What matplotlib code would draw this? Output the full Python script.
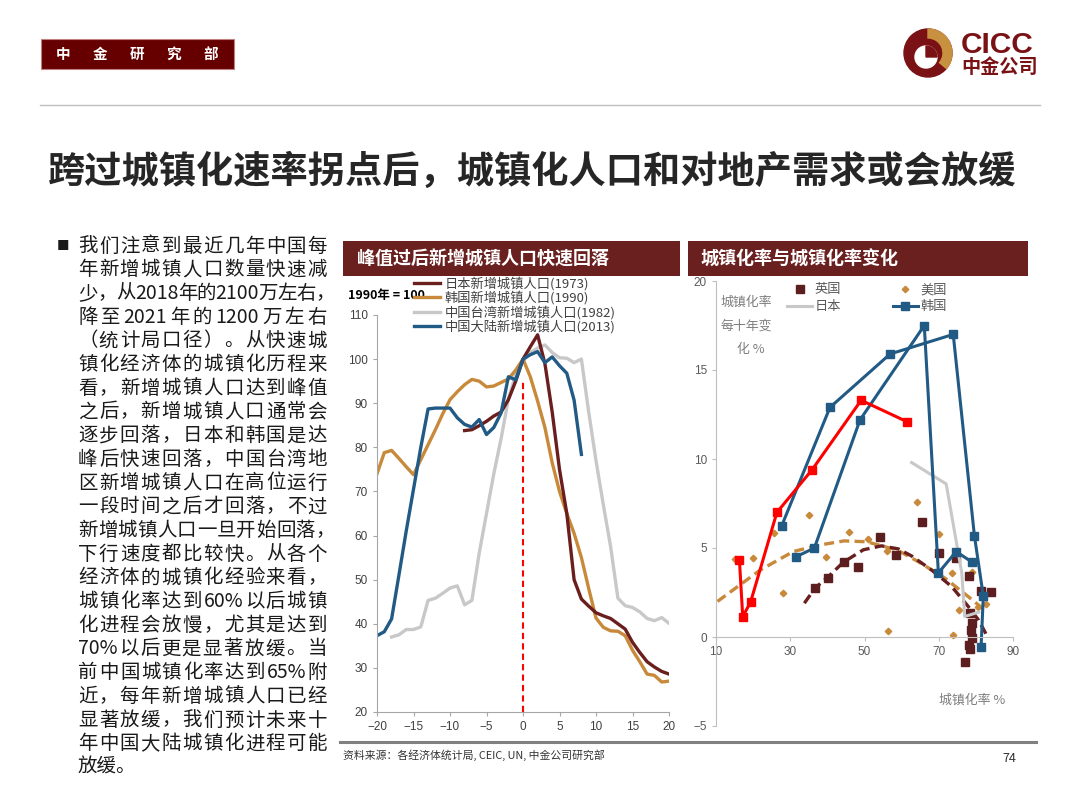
import numpy as np
import matplotlib
matplotlib.use("Agg")
import matplotlib.pyplot as plt
from matplotlib.patches import Rectangle, Circle, Wedge

plt.rcParams['font.family'] = ['Noto Sans CJK SC', 'DejaVu Sans']

# ---- left chart: new urban population, years from peak (peak year = 100)
yrs_japan = np.arange(-8, 21)
japan = [83.8, 84.0, 84.9, 85.9, 87.1, 88.0, 90.8, 95.0, 100.0, 102.8, 105.5,
         99.0, 88.0, 75.0, 65.0, 50.0, 45.6, 44.0, 42.5, 41.8, 41.2, 40.0,
         38.8, 35.8, 33.5, 31.4, 30.2, 29.2, 28.6]
yrs_korea = np.arange(-20, 21)
korea = [74.0, 78.8, 79.3, 77.5, 75.6, 73.8, 77.2, 80.6, 84.0, 87.6, 90.8,
         92.6, 94.2, 95.4, 95.0, 93.7, 93.9, 94.7, 95.5, 97.5, 100.0, 96.0,
         90.5, 84.5, 76.5, 70.0, 65.0, 60.5, 55.0, 48.0, 41.3, 39.2, 38.4,
         38.3, 37.3, 34.0, 31.4, 28.6, 28.3, 26.8, 27.0]
yrs_taiwan = np.arange(-18, 21)
taiwan = [37.0, 37.5, 38.7, 38.7, 39.3, 45.3, 45.8, 46.9, 48.1, 48.6, 44.3,
          45.3, 56.0, 65.0, 74.0, 82.0, 91.0, 96.5, 99.5, 101.5, 102.5, 103.2,
          101.5, 100.3, 100.2, 99.2, 100.0, 88.0, 77.0, 67.0, 57.5, 45.8,
          44.1, 43.7, 42.7, 41.2, 40.7, 41.4, 40.1]
yrs_china = np.arange(-20, 9)
china = [37.3, 38.2, 41.1, 51.0, 61.0, 70.5, 80.0, 88.7, 88.9, 88.9, 88.9,
         86.7, 85.2, 84.6, 86.3, 82.9, 84.5, 87.8, 96.0, 95.3, 100.0, 101.0,
         101.7, 99.2, 100.5, 98.5, 96.8, 90.7, 78.4]
left_labels = ['日本新增城镇人口(1973)', '韩国新增城镇人口(1990)',
               '中国台湾新增城镇人口(1982)', '中国大陆新增城镇人口(2013)']

# ---- right chart: urbanisation rate (x) vs change per decade (y)
uk_x = [36.7, 40.1, 44.6, 48.3, 54.2, 58.6, 65.4, 70.2, 74.7, 77.1, 78.1,
        78.2, 78.4, 78.4, 78.7, 79.0, 79.0, 81.4, 84.1]
uk_y = [2.73, 3.33, 4.2, 3.95, 5.6, 4.6, 6.44, 4.7, 4.42, -1.42, -0.45,
        3.43, 1.33, -0.69, 0.39, 0.77, -0.07, 2.6, 2.55]
us_x = [15.2, 19.9, 25.5, 28.0, 35.0, 39.5, 45.7, 51.0, 56.1, 56.4, 64.1,
        70.1, 73.5, 73.8, 75.5, 79.0, 80.7, 82.6]
us_y = [4.4, 4.46, 5.85, 2.45, 6.85, 4.51, 5.9, 5.52, 4.85, 0.32, 7.6,
        5.8, 3.58, 0.11, 1.52, 3.67, 1.7, 1.85]
jp_x = [62.7, 72.0, 76.2, 77.0, 80.8]
jp_y = [9.8, 8.6, 3.6, 1.15, 1.4]
kr1_x = [27.7, 40.7, 56.9, 73.9, 79.6, 82.0, 81.4]
kr1_y = [6.25, 12.9, 15.9, 17.0, 5.7, 2.3, -0.58]
kr2_x = [31.5, 36.5, 48.8, 66.1, 69.9, 74.7, 79.0]
kr2_y = [4.5, 5.0, 12.2, 17.5, 3.6, 4.8, 4.2]
cn_x = [16.3, 17.2, 19.3, 26.4, 35.9, 49.1, 61.4]
cn_y = [4.35, 1.15, 1.95, 7.0, 9.4, 13.3, 12.1]
us_trend_x = [10.4, 21.9, 30.8, 38.0, 44.5, 50.6, 55.5, 58.7, 64.5, 71.7, 78.0, 82.9]
us_trend_y = [2.0, 3.76, 4.8, 5.17, 5.4, 5.35, 5.07, 4.9, 4.23, 3.3, 2.26, 1.42]
uk_trend_x = [33.8, 36.7, 40.3, 44.3, 49.7, 54.6, 59.1, 62.7, 68.1, 73.5, 78.0, 80.7, 83.3]
uk_trend_y = [1.9, 2.75, 3.4, 4.2, 4.9, 5.12, 4.95, 4.55, 3.76, 2.83, 1.7, 0.96, -0.05]

body = ['我们注意到最近几年中国每', '年新增城镇人口数量快速减', '少，从2018年的2100万左右，',
        '降至2021年的1200万左右', '（统计局口径）。从快速城', '镇化经济体的城镇化历程来',
        '看，新增城镇人口达到峰值', '之后，新增城镇人口通常会', '逐步回落，日本和韩国是达',
        '峰后快速回落，中国台湾地', '区新增城镇人口在高位运行', '一段时间之后才回落，不过',
        '新增城镇人口一旦开始回落，', '下行速度都比较快。从各个', '经济体的城镇化经验来看，',
        '城镇化率达到60%以后城镇', '化进程会放慢，尤其是达到', '70%以后更是显著放缓。当',
        '前中国城镇化率达到65%附', '近，每年新增城镇人口已经', '显著放缓，我们预计未来十',
        '年中国大陆城镇化进程可能', '放缓。']

DARK = '#6B2020'
BROWN = '#6A1E1E'
GOLD = '#C8893A'
GREY = '#C8C8C8'
BLUE = '#215A85'

fig = plt.figure(figsize=(10.8, 8.1), dpi=100)

# page decoration, drawn in pixel coordinates
bg = fig.add_axes([0, 0, 1, 1])
bg.set_xlim(0, 1080)
bg.set_ylim(810, 0)
bg.axis('off')
renderer = fig.canvas.get_renderer()


def text_width(s, size):
    t = bg.text(0, 0, s, fontsize=size)
    w = t.get_window_extent(renderer).width
    t.remove()
    return w


def tokens(line):
    # keep runs of latin characters/digits together
    out = []
    for ch in line:
        if ord(ch) < 128 and out and ord(out[-1][-1]) < 128:
            out[-1] += ch
        else:
            out.append(ch)
    return out


def justified(y, line, x0, width, size, color):
    toks = tokens(line)
    ref = text_width('中', size)
    adv = [text_width(t + '中', size) - ref for t in toks]
    if line.endswith('，') and sum(adv) > width - 8:
        width += 8   # trailing comma hangs past the margin
    gap = (width - sum(adv)) / max(len(toks) - 1, 1)
    x = x0
    for t, a in zip(toks, adv):
        bg.text(x, y, t, fontsize=size, color=color, ha='left', va='center')
        x += a + gap


bg.add_patch(Rectangle((41, 39), 193, 30, facecolor='#660000', edgecolor='#C08080', lw=0.8))
for i, ch in enumerate('中金研究部'):
    bg.text(63 + i * 36.8, 54, ch, color='white', fontsize=10.5, fontweight='bold',
            ha='center', va='center')

# logo
bg.add_patch(Circle((928, 53), 24, color='#7A1215'))
bg.add_patch(Wedge((928, 53), 24, -90, 40, width=9, color='#C8913F'))
bg.add_patch(Circle((926, 57), 11, color='white'))
bg.add_patch(Wedge((926, 57), 11, -90, 0, color='#7A1215'))
bg.text(961, 45, 'CICC', color='#7A1215', fontsize=21.5, fontweight='bold',
        family='Liberation Sans', ha='left', va='center')
bg.text(961, 67, '中金公司', color='#7A1215', fontsize=13.8, fontweight='bold',
        ha='left', va='center')

bg.plot([40, 1040], [105, 105], color='#BFBFBF', lw=1)
bg.text(48, 172, '跨过城镇化速率拐点后，城镇化人口和对地产需求或会放缓', fontsize=26.8,
        fontweight='bold', color='#262626', ha='left', va='center')

bg.text(57, 246, '■', fontsize=9, color='#1a1a1a', ha='left', va='center')
for i, line in enumerate(body):
    y = 246 + i * 23.7
    if i == len(body) - 1:
        bg.text(78, y, line, fontsize=14, color='#1a1a1a', ha='left', va='center')
    else:
        justified(y, line, 78, 249, 14, '#1a1a1a')

bg.add_patch(Rectangle((343, 241), 337, 35, facecolor=DARK, edgecolor='none'))
bg.text(357, 259, '峰值过后新增城镇人口快速回落', fontsize=13, fontweight='bold',
        color='white', ha='left', va='center')
bg.add_patch(Rectangle((688, 241), 340, 35, facecolor=DARK, edgecolor='none'))
bg.text(700, 259, '城镇化率与城镇化率变化', fontsize=13, fontweight='bold',
        color='white', ha='left', va='center')

bg.text(348, 296, '1990年 = 100', fontsize=9, fontweight='bold', color='black',
        ha='left', va='center')

bg.text(746, 302, '城镇化率', fontsize=9.3, color='#7F7F7F', ha='center', va='center')
bg.text(746, 326, '每十年变', fontsize=9.3, color='#7F7F7F', ha='center', va='center')
bg.text(751, 349, '化 %', fontsize=9.3, color='#7F7F7F', ha='center', va='center')
bg.text(972, 700, '城镇化率 %', fontsize=9.3, color='#7F7F7F', ha='center', va='center')

bg.plot([340, 1036], [742, 742], color='#808080', lw=2.2)
bg.text(343, 755, '资料来源：各经济体统计局, CEIC, UN, 中金公司研究部', fontsize=7.8,
        color='#333333', ha='left', va='center')
bg.text(1016, 758, '74', fontsize=9, color='#333333', ha='right', va='center')

# ---- left chart
ax1 = fig.add_axes([377 / 1080, 1 - 712 / 810, 292 / 1080, 397 / 810])
ax1.set_facecolor('none')
l_tw, = ax1.plot(yrs_taiwan, taiwan, color=GREY, lw=2.4)
l_kr, = ax1.plot(yrs_korea, korea, color=GOLD, lw=2.4)
l_jp, = ax1.plot(yrs_japan, japan, color=BROWN, lw=2.4)
l_cn, = ax1.plot(yrs_china, china, color=BLUE, lw=2.4)
ax1.vlines(0, 20, 95, colors='red', linestyles=(0, (3, 2)), lw=1.5)
ax1.set_xlim(-20, 20)
ax1.set_ylim(20, 110)
ax1.set_xticks(range(-20, 21, 5))
ax1.set_yticks(range(20, 111, 10))
for s in ['top', 'right']:
    ax1.spines[s].set_visible(False)
for s in ['left', 'bottom']:
    ax1.spines[s].set_color('#A6A6A6')
ax1.tick_params(labelsize=8.5, labelcolor='#404040', color='#A6A6A6', length=3,
                labelfontfamily='Liberation Sans')
ax1.legend([l_jp, l_kr, l_tw, l_cn], left_labels, loc='upper left',
           bbox_to_anchor=(0.127, 1.097), frameon=False, fontsize=9.5,
           labelcolor='#404040', handlelength=2.0, handletextpad=0.3,
           labelspacing=0.05, borderpad=0, borderaxespad=0)

# ---- right chart
ax2 = fig.add_axes([716 / 1080, 1 - 726 / 810, 297 / 1080, 445 / 810])
ax2.set_facecolor('none')
ax2.plot(us_trend_x, us_trend_y, color=GOLD, lw=2.4, ls=(0, (3, 1.6)))
ax2.plot(uk_trend_x, uk_trend_y, color=BROWN, lw=2.4, ls=(0, (3, 1.6)))
h_us, = ax2.plot(us_x, us_y, ls='none', marker='D', ms=3.3, color=GOLD)
h_uk, = ax2.plot(uk_x, uk_y, ls='none', marker='s', ms=6, color='#5C1E1E')
h_jp, = ax2.plot(jp_x, jp_y, color=GREY, lw=2.2)
h_kr, = ax2.plot(kr1_x, kr1_y, color=BLUE, lw=2.2, marker='s', ms=5.5)
ax2.plot(kr2_x, kr2_y, color=BLUE, lw=2.2, marker='s', ms=5.5)
ax2.plot(cn_x, cn_y, color='red', lw=2.2, marker='s', ms=5.5)
ax2.set_xlim(10, 90)
ax2.set_ylim(-5, 20)
ax2.set_xticks(range(10, 91, 20))
ax2.set_yticks(range(-5, 21, 5))
ax2.spines['bottom'].set_position(('data', 0))
for s in ['top', 'right']:
    ax2.spines[s].set_visible(False)
for s in ['left', 'bottom']:
    ax2.spines[s].set_color('#BFBFBF')
ax2.tick_params(labelsize=8.5, labelcolor='#595959', color='#BFBFBF', length=3,
                labelfontfamily='Liberation Sans')
ax2.legend([h_uk, h_jp, h_us, h_kr], ['英国', '日本', '美国', '韩国'], ncol=2,
           loc='upper left', bbox_to_anchor=(0.24, 0.995), frameon=False,
           fontsize=9.5, labelcolor='#595959', handlelength=1.9,
           handletextpad=0.2, labelspacing=0.3, columnspacing=3.9,
           borderpad=0, borderaxespad=0)

fig.savefig('out.png', dpi=100)
